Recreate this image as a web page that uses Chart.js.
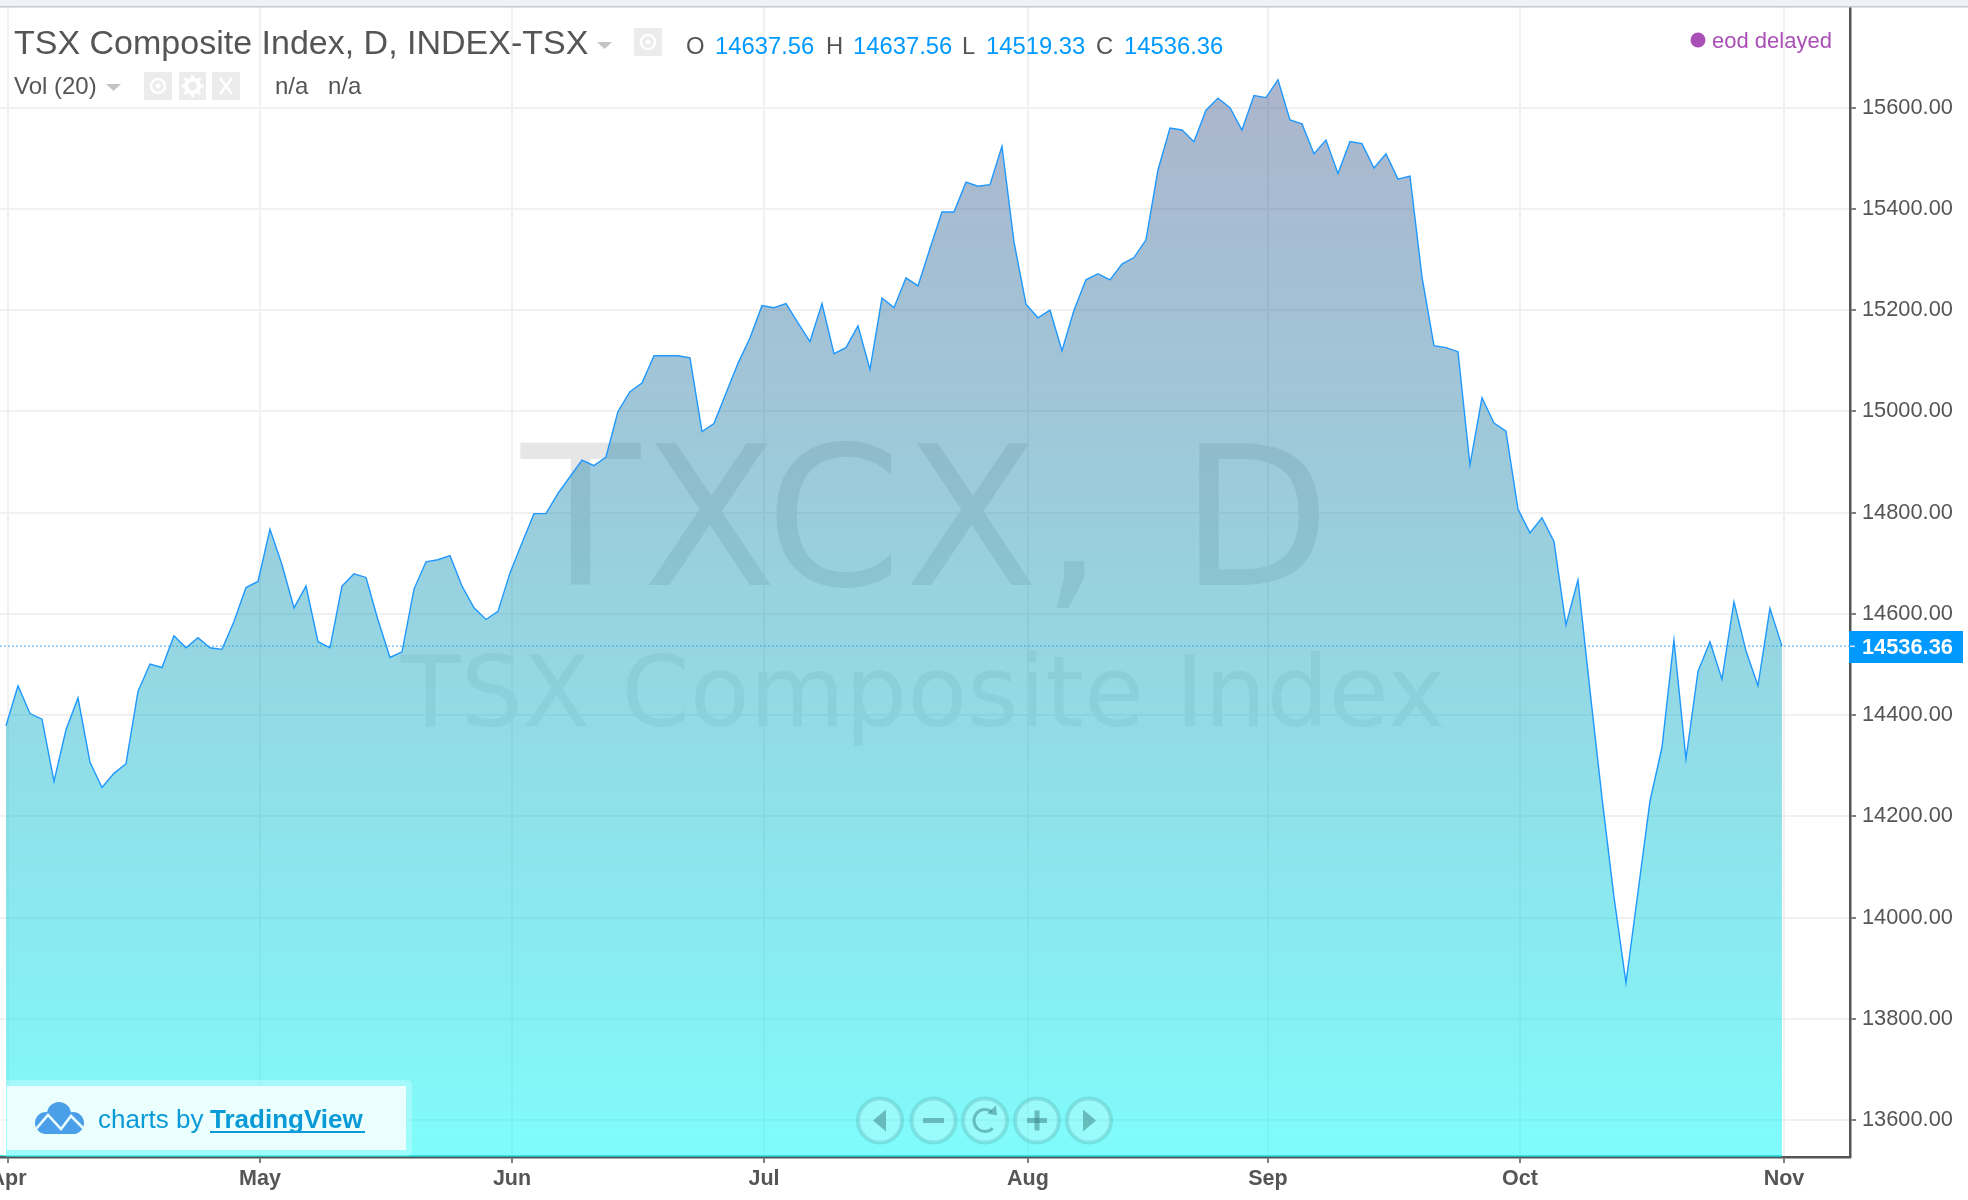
<!DOCTYPE html>
<html>
<head>
<meta charset="utf-8">
<title>TSX Composite Index</title>
<script src="https://cdn.jsdelivr.net/npm/chart.js@4/dist/chart.umd.min.js"></script>
<style>
html, body { margin: 0; padding: 0; background: #fff; }
canvas { display: block; }
</style>
</head>
<body>
<canvas id="grafico" width="1968" height="1200"></canvas>
<script>
// one close per trading day
const closes = [
    14379, 14458, 14403, 14392, 14269, 14371, 14434, 14307, 14257, 14285, 14304, 14447, 14501, 14494, 14557, 14533,
    14553, 14533, 14530, 14585, 14652, 14664, 14767, 14697, 14612, 14655, 14545, 14533, 14655, 14679, 14672, 14588,
    14514, 14525, 14649, 14703, 14707, 14715, 14655, 14612, 14589, 14605, 14681, 14740, 14798, 14798, 14838, 14871,
    14904, 14893, 14910, 15000, 15039, 15056, 15110, 15110, 15110, 15106, 14960, 14976, 15036, 15095, 15145, 15209,
    15205, 15213, 15175, 15138, 15213, 15114, 15126, 15169, 15083, 15224, 15205, 15264, 15248, 15322, 15394, 15394,
    15453, 15445, 15448, 15524, 15335, 15212, 15185, 15200, 15120, 15200, 15260, 15272, 15260, 15291, 15304, 15339,
    15477, 15560, 15556, 15533, 15595, 15619, 15600, 15556, 15624, 15620, 15655, 15576, 15568, 15509, 15536, 15470,
    15533, 15529, 15481, 15509, 15459, 15465, 15266, 15130, 15126, 15118, 14894, 15027, 14977, 14961, 14807, 14760,
    14790, 14743, 14578, 14667, 14449, 14237, 14041, 13871, 14050, 14230, 14336, 14548, 14313, 14486, 14545, 14471,
    14624, 14527, 14458, 14611, 14536.36
];
const monthLabels = ['Apr', 'May', 'Jun', 'Jul', 'Aug', 'Sep', 'Oct', 'Nov'];
const monthStarts = [0, 21, 42, 63, 85, 105, 126, 148];
const priceTicks = [13600, 13800, 14000, 14200, 14400, 14600, 14800, 15000, 15200, 15400, 15600];
const lastPrice = 14536.36;
const ohlcLabels = ['O', 'H', 'L', 'C'];
const ohlcValues = ['14637.56', '14637.56', '14519.33', '14536.36'];

const AXIS_COLOR = '#555555';
const GRID_COLOR = '#f1f1f1';
const BLUE = '#0099ff';
const SANS = '"Liberation Sans", Arial, sans-serif';

function text(ctx, str, x, y, font, color, align) {
    ctx.font = font;
    ctx.fillStyle = color;
    ctx.textAlign = align || 'left';
    ctx.textBaseline = 'alphabetic';
    ctx.fillText(str, x, y);
}

function iconBox(ctx, x, y, w, h) {
    ctx.fillStyle = '#ececec';
    ctx.fillRect(x, y, w, h);
}

function eye(ctx, cx, cy) {
    ctx.strokeStyle = '#fff';
    ctx.lineWidth = 2.5;
    ctx.beginPath();
    ctx.arc(cx, cy, 7, 0, Math.PI * 2);
    ctx.stroke();
    ctx.fillStyle = '#fff';
    ctx.beginPath();
    ctx.arc(cx, cy, 2.5, 0, Math.PI * 2);
    ctx.fill();
}

function caret(ctx, x, y, w, h) {
    ctx.fillStyle = '#c4c4c4';
    ctx.beginPath();
    ctx.moveTo(x, y);
    ctx.lineTo(x + w, y);
    ctx.lineTo(x + w / 2, y + h);
    ctx.closePath();
    ctx.fill();
}

// watermark goes under the area fill
const watermarkPlugin = {
    id: 'watermark',
    beforeDatasetsDraw(chart) {
        const ctx = chart.ctx;
        ctx.save();
        ctx.letterSpacing = '3px';
        ctx.wordSpacing = '9px';
        text(ctx, 'TXCX, D', 521, 585, '195px "DejaVu Sans"', '#e6e6e6');
        ctx.letterSpacing = '0px';
        ctx.wordSpacing = '0px';
        text(ctx, 'TSX Composite Index', 923, 726, '98px "DejaVu Sans"', '#eeeeee', 'center');
        ctx.restore();
    }
};

const overlayPlugin = {
    id: 'overlay',
    afterDraw(chart) {
        const ctx = chart.ctx;
        const yLast = chart.scales.y.getPixelForValue(lastPrice);
        ctx.save();

        // browser strip at the very top
        ctx.fillStyle = '#f0f2f7';
        ctx.fillRect(0, 0, 1968, 6);
        ctx.fillStyle = '#c9c9d2';
        ctx.fillRect(0, 6, 1968, 1.5);

        // cyan edge under the area
        ctx.fillStyle = '#35e4e8';
        ctx.fillRect(0, 1155, 1782, 1.2);

        // headers
        text(ctx, 'TSX Composite Index, D, INDEX-TSX', 14, 54, '34px ' + SANS, AXIS_COLOR);
        caret(ctx, 597, 42, 15, 7);
        iconBox(ctx, 634, 28, 28, 28);
        eye(ctx, 648, 42);

        const ohlcX = [686, 826, 962, 1096];
        const valueX = [715, 853, 986, 1124];
        ohlcLabels.forEach((lab, i) => {
            text(ctx, lab, ohlcX[i], 54, '23.8px ' + SANS, AXIS_COLOR);
            text(ctx, ohlcValues[i], valueX[i], 54, '23.8px ' + SANS, BLUE);
        });

        text(ctx, 'Vol (20)', 14, 94, '24px ' + SANS, AXIS_COLOR);
        caret(ctx, 106, 84, 15, 7);
        iconBox(ctx, 144, 72, 28, 28);
        iconBox(ctx, 179, 72, 27, 28);
        iconBox(ctx, 212, 72, 28, 28);
        eye(ctx, 158, 86);

        // gear
        ctx.strokeStyle = '#fff';
        ctx.lineWidth = 4;
        ctx.beginPath();
        ctx.arc(192.5, 86, 6.5, 0, Math.PI * 2);
        ctx.stroke();
        ctx.lineWidth = 3;
        for (let a = 0; a < 8; a++) {
            const ang = a * Math.PI / 4;
            ctx.beginPath();
            ctx.moveTo(192.5 + Math.cos(ang) * 7, 86 + Math.sin(ang) * 7);
            ctx.lineTo(192.5 + Math.cos(ang) * 11, 86 + Math.sin(ang) * 11);
            ctx.stroke();
        }

        // close cross
        ctx.lineWidth = 2.5;
        ctx.beginPath();
        ctx.moveTo(220, 78);
        ctx.lineTo(232, 94);
        ctx.moveTo(232, 78);
        ctx.lineTo(220, 94);
        ctx.stroke();

        text(ctx, 'n/a', 275, 94, '24px ' + SANS, AXIS_COLOR);
        text(ctx, 'n/a', 328, 94, '24px ' + SANS, AXIS_COLOR);

        // eod delayed
        ctx.fillStyle = '#a94fb5';
        ctx.beginPath();
        ctx.arc(1698, 40, 7.5, 0, Math.PI * 2);
        ctx.fill();
        text(ctx, 'eod delayed', 1712, 48, '22px ' + SANS, '#a94fb5');

        // last price flag
        ctx.fillStyle = BLUE;
        ctx.fillRect(1849, 631, 114, 32);
        ctx.fillStyle = '#cfeaff';
        ctx.fillRect(1850, yLast - 0.5, 5, 1.5);
        text(ctx, lastPrice.toFixed(2), 1862, yLast + 8, 'bold 21.8px ' + SANS, '#fff');

        // logo box
        ctx.fillStyle = 'rgba(255,255,255,0.25)';
        ctx.beginPath();
        ctx.roundRect(0, 1080, 412, 76, 5);
        ctx.fill();
        ctx.fillStyle = '#ebfffe';
        ctx.fillRect(7, 1086, 399, 64);

        // cloud
        ctx.fillStyle = '#4a9fe8';
        ctx.beginPath();
        ctx.arc(46, 1123, 11, 0, Math.PI * 2);
        ctx.arc(59, 1114, 12, 0, Math.PI * 2);
        ctx.arc(73, 1123, 11, 0, Math.PI * 2);
        ctx.fill();
        ctx.fillRect(44, 1122, 32, 12);
        ctx.strokeStyle = '#ebfffe';
        ctx.lineWidth = 2.5;
        ctx.beginPath();
        ctx.moveTo(36, 1129);
        ctx.lineTo(48, 1115);
        ctx.lineTo(61, 1129);
        ctx.lineTo(71, 1116);
        ctx.lineTo(84, 1129);
        ctx.stroke();

        text(ctx, 'charts by', 98, 1128, '26px ' + SANS, '#0a9ad8');
        text(ctx, 'TradingView', 210, 1128, 'bold 26px ' + SANS, '#0a9ad8');
        ctx.fillStyle = '#0a9ad8';
        ctx.fillRect(210, 1131, 155, 2);

        // nav buttons
        const navX = [880, 933.5, 985, 1037, 1089];
        const navY = 1120.5;
        navX.forEach(cx => {
            ctx.fillStyle = 'rgba(255,255,255,0.2)';
            ctx.beginPath();
            ctx.arc(cx, navY, 22, 0, Math.PI * 2);
            ctx.fill();
            ctx.strokeStyle = 'rgba(80,165,165,0.3)';
            ctx.lineWidth = 4;
            ctx.stroke();
        });
        ctx.fillStyle = 'rgba(60,135,135,0.55)';
        ctx.beginPath();
        ctx.moveTo(873, navY);
        ctx.lineTo(886, navY - 11);
        ctx.lineTo(886, navY + 11);
        ctx.closePath();
        ctx.fill();
        ctx.beginPath();
        ctx.moveTo(1096, navY);
        ctx.lineTo(1083, navY - 11);
        ctx.lineTo(1083, navY + 11);
        ctx.closePath();
        ctx.fill();
        ctx.fillRect(923, navY - 2.5, 21, 5);
        ctx.fillRect(1027, navY - 2.5, 20, 5);
        ctx.fillRect(1034.5, navY - 10, 5, 20);
        ctx.strokeStyle = 'rgba(60,135,135,0.55)';
        ctx.lineWidth = 3;
        ctx.beginPath();
        ctx.arc(985, navY, 11, -0.9, 0.8, true);
        ctx.stroke();
        ctx.beginPath();
        ctx.moveTo(996, navY - 15);
        ctx.lineTo(997, navY - 5);
        ctx.lineTo(987, navY - 7);
        ctx.closePath();
        ctx.fill();

        ctx.restore();
    }
};

function areaGradient(context) {
    const g = context.chart.ctx.createLinearGradient(0, 80, 0, 1157);
    g.addColorStop(0, 'rgba(47,70,127,0.4)');
    g.addColorStop(1, 'rgba(1,249,249,0.5)');
    return g;
}

const config = {
    type: 'line',
    data: {
        datasets: [
            {
                data: closes.map((c, i) => ({x: i, y: c})),
                borderColor: '#1e98ff',
                borderWidth: 1.4,
                backgroundColor: areaGradient,
                fill: 'start',
                pointRadius: 0,
                tension: 0
            },
            {
                data: [{x: -0.5, y: lastPrice}, {x: 153.67, y: lastPrice}],
                borderColor: '#4aa8f5',
                borderWidth: 1,
                borderDash: [2, 2],
                fill: false,
                pointRadius: 0
            }
        ]
    },
    options: {
        responsive: false,
        animation: false,
        parsing: false,
        layout: {autoPadding: false, padding: {top: 7, left: 0, right: 0, bottom: 0}},
        plugins: {legend: {display: false}, tooltip: {enabled: false}},
        scales: {
            x: {
                type: 'linear',
                min: -0.5,
                max: 153.67,
                afterFit(scale) {
                    scale.height = 43;
                    scale.paddingLeft = 0;
                    scale.paddingRight = 0;
                },
                afterBuildTicks(scale) {
                    scale.ticks = monthStarts.map(m => ({value: m + 0.167}));
                },
                grid: {color: GRID_COLOR, lineWidth: 2, tickColor: AXIS_COLOR, tickLength: 6, tickWidth: 1.5},
                border: {color: AXIS_COLOR, width: 2.5},
                ticks: {
                    autoSkip: false,
                    maxRotation: 0,
                    padding: 3,
                    color: AXIS_COLOR,
                    font: {family: SANS, size: 21.5, weight: 'bold'},
                    callback: (v, i) => monthLabels[i]
                }
            },
            y: {
                position: 'right',
                min: 13527,
                max: 15799,
                afterFit(scale) {
                    scale.width = 118;
                    scale.paddingTop = 0;
                    scale.paddingBottom = 0;
                },
                afterBuildTicks(scale) {
                    scale.ticks = priceTicks.map(p => ({value: p}));
                },
                grid: {color: GRID_COLOR, lineWidth: 2, tickColor: AXIS_COLOR, tickLength: 6, tickWidth: 1.5},
                border: {color: AXIS_COLOR, width: 2.5},
                ticks: {
                    autoSkip: false,
                    padding: 6,
                    color: AXIS_COLOR,
                    font: {family: SANS, size: 21.8},
                    callback: v => v.toFixed(2)
                }
            }
        }
    },
    plugins: [watermarkPlugin, overlayPlugin]
};

new Chart(document.getElementById('grafico').getContext('2d'), config);
</script>
</body>
</html>
